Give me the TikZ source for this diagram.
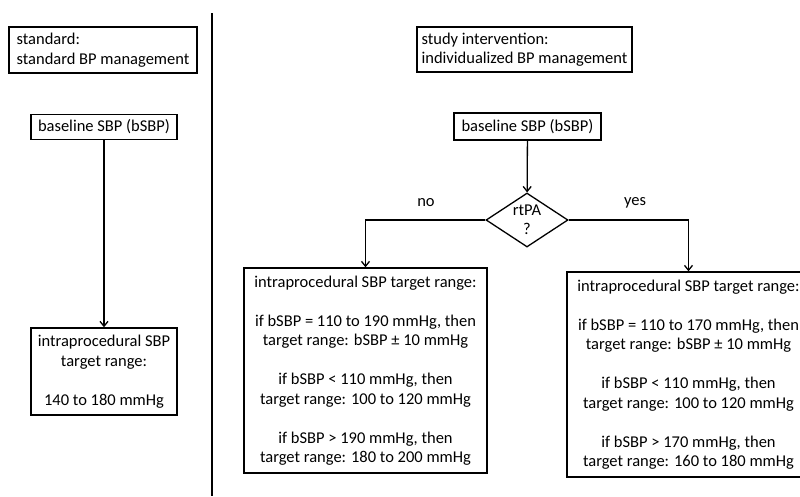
\documentclass[tikz,border=0pt]{standalone}
\usepackage{fontspec}
\setmainfont{Carlito}
\usetikzlibrary{shapes.geometric,arrows.meta}
\begin{document}
\begin{tikzpicture}[x=1pt,y=-1pt,
  every node/.style={font=\fontsize{16.5}{19.5}\selectfont, inner sep=0pt},
  box/.style={draw, line width=1.3pt, align=center},
  lbox/.style={box, align=left, inner xsep=3pt},
  decision/.style={draw, line width=1.3pt, diamond, align=center, minimum width=82pt, minimum height=54pt, aspect=1.5},
  conn/.style={line width=1.3pt, -{Straight Barb[length=5pt,width=8pt]}},
  plain/.style={line width=1.3pt}]
\useasboundingbox (0,0) rectangle (800,496);
% divider
\draw[plain] (212,13) -- (212,496);
% left column
\node[lbox, minimum width=188pt, minimum height=46pt] (std) at (103,50) {standard:\\standard BP management};
\node[box, minimum width=146pt, minimum height=25pt] (lbase) at (104,127) {baseline SBP (bSBP)};
\node[box, minimum width=146pt, minimum height=87pt] (ltarget) at (104,371.5) {intraprocedural SBP\\target range:\\[19.5pt]140 to 180 mmHg};
\draw[conn] (lbase) -- (ltarget);
% right column
\node[lbox, minimum width=215pt, minimum height=45pt] (study) at (524.5,49.5) {study intervention:\\individualized BP management};
\node[box, minimum width=147pt, minimum height=27pt] (rbase) at (527.5,126.5) {baseline SBP (bSBP)};
\node[decision] (dec) at (527,220) {rtPA\\?};
\node[box, minimum width=243pt, minimum height=205pt] (notpa) at (365.5,370.5) {intraprocedural SBP target range:\\[19.5pt]if bSBP = 110 to 190 mmHg, then\\target range: bSBP ± 10 mmHg\\[19.5pt]if bSBP < 110 mmHg, then\\target range: 100 to 120 mmHg\\[19.5pt]if bSBP > 190 mmHg, then\\target range: 180 to 200 mmHg};
\node[box, minimum width=243pt, minimum height=205pt] (yestpa) at (688.5,374.5) {intraprocedural SBP target range:\\[19.5pt]if bSBP = 110 to 170 mmHg, then\\target range: bSBP ± 10 mmHg\\[19.5pt]if bSBP < 110 mmHg, then\\target range: 100 to 120 mmHg\\[19.5pt]if bSBP > 170 mmHg, then\\target range: 160 to 180 mmHg};
\draw[conn] (rbase) -- (dec);
\draw[conn] (dec.west) -| (notpa.north);
\draw[conn] (dec.east) -| (yestpa.north);
\node (no) at (426,203) {no};
\node (yes) at (635,203) {yes};
\end{tikzpicture}
\end{document}
